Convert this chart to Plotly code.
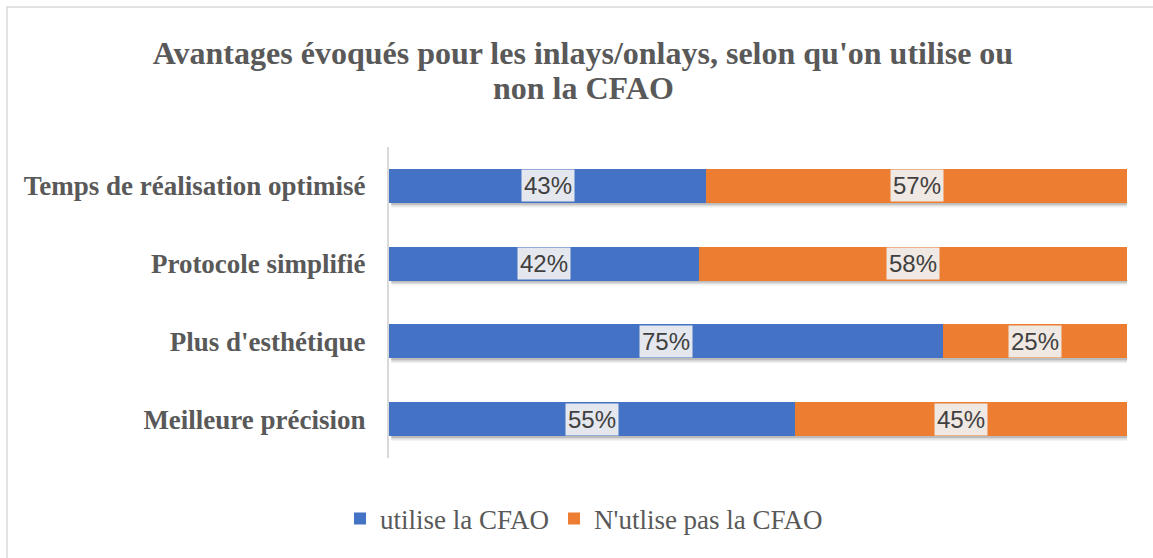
import plotly.graph_objects as go

# Survey answers: share of respondents per advantage, split by CFAO use
categories = [
    "Meilleure précision",
    "Plus d'esthétique",
    "Protocole simplifié",
    "Temps de réalisation optimisé",
]
utilise_cfao = [55, 75, 42, 43]
n_utilise_pas = [45, 25, 58, 57]
series_names = ["utilise la CFAO", "N'utlise pas la CFAO"]
title_lines = ["Avantages évoqués pour les inlays/onlays, selon qu'on utilise ou",
               "non la CFAO"]

W, H = 1153, 558
M_L, M_R, M_T, M_B = 389, 26, 147, 100
plot_w = W - M_L - M_R
plot_h = H - M_T - M_B

BLUE = "#4472C4"
ORANGE = "#ED7D31"
GREY_TXT = "#595959"
SERIF = "Liberation Serif, Times New Roman, serif"
TITLE_SIZE = 32


def px_x(px):
    return (px - M_L) / plot_w


def px_y(px):
    return (H - M_B - px) / plot_h


fig = go.Figure()
fig.add_trace(go.Bar(
    y=categories, x=utilise_cfao, orientation="h", name=series_names[0],
    marker=dict(color=BLUE, line=dict(width=0)),
))
fig.add_trace(go.Bar(
    y=categories, x=n_utilise_pas, orientation="h", name=series_names[1],
    marker=dict(color=ORANGE, line=dict(width=0)),
))

BARGAP = 0.563
half = (1 - BARGAP) / 2

shapes = []
# soft drop shadow under each bar
px_to_cat = 1.0 / (plot_h / len(categories))
for i, (a, b) in enumerate(zip(utilise_cfao, n_utilise_pas)):
    for k, alpha in enumerate([0.14, 0.09, 0.05]):
        off = (2 + k * 1.5) * px_to_cat
        shapes.append(dict(
            type="rect", xref="x", yref="y", layer="below",
            x0=0.3, x1=a + b + 0.3,
            y0=i - half - off, y1=i + half - off,
            fillcolor=f"rgba(0,0,0,{alpha})", line=dict(width=0),
        ))

# outer frame of the chart area
shapes.append(dict(
    type="rect", xref="paper", yref="paper",
    x0=px_x(7), x1=2.0, y0=-2.0, y1=px_y(7),
    line=dict(color="#D9D9D9", width=1.5), fillcolor="rgba(0,0,0,0)",
))

# value labels on each segment
annotations = []
for i, (a, b) in enumerate(zip(utilise_cfao, n_utilise_pas)):
    for xc, v in [(a / 2, a), (a + b / 2, b)]:
        annotations.append(dict(
            x=xc, y=i, xref="x", yref="y", text=f"{v}%", showarrow=False,
            font=dict(family="Liberation Sans, Arial", size=24, color="#404040"),
            bgcolor="rgba(240,240,240,0.93)", borderpad=2,
        ))

# second line of the title, set with a tighter line spacing
annotations.append(dict(
    x=px_x(583), y=px_y(88), xref="paper", yref="paper",
    xanchor="center", yanchor="middle", showarrow=False,
    text=title_lines[1],
    font=dict(family=SERIF, size=TITLE_SIZE, color=GREY_TXT, weight="bold"),
))

fig.update_layout(
    width=W, height=H,
    margin=dict(l=M_L, r=M_R, t=M_T, b=M_B),
    paper_bgcolor="white", plot_bgcolor="white",
    barmode="stack", bargap=BARGAP,
    title=dict(
        text=title_lines[0],
        x=583 / W, xanchor="center", xref="container",
        y=1 - 53 / H, yanchor="middle", yref="container",
        font=dict(family=SERIF, size=TITLE_SIZE, color=GREY_TXT, weight="bold"),
    ),
    xaxis=dict(range=[0, 100], showgrid=False, showticklabels=False, zeroline=False,
               showline=False, ticks=""),
    yaxis=dict(
        showgrid=False, zeroline=False, ticks="",
        showline=True, linecolor="#D9D9D9", linewidth=2,
        ticklabelstandoff=16,
        tickfont=dict(family=SERIF, size=27, color=GREY_TXT, weight="bold"),
    ),
    legend=dict(
        orientation="h", xref="container", yref="container",
        x=584 / W, xanchor="center", y=1 - 519 / H, yanchor="middle",
        font=dict(family=SERIF, size=27, color=GREY_TXT),
        itemwidth=30, traceorder="normal",
    ),
    shapes=shapes, annotations=annotations,
    showlegend=True,
)

fig.write_html("out.html")
